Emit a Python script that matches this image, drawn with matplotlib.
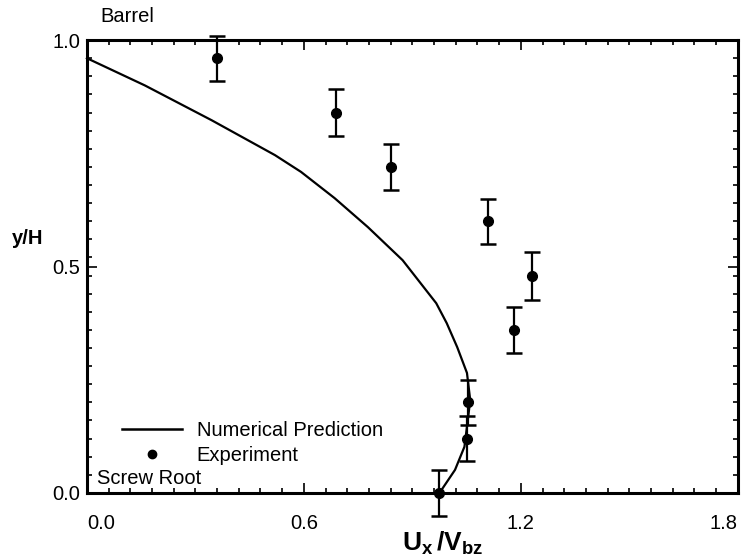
import numpy as np
import matplotlib
matplotlib.use("Agg")
import matplotlib.pyplot as plt
from matplotlib.ticker import MultipleLocator, FixedLocator
from matplotlib.lines import Line2D

plt.rcParams["font.family"] = ["Liberation Sans", "DejaVu Sans"]
plt.rcParams["mathtext.fontset"] = "custom"
plt.rcParams["mathtext.rm"] = "Liberation Sans"
plt.rcParams["mathtext.bf"] = "Liberation Sans:bold"

# numerical prediction
pred_x = [0.0, 0.16, 0.345, 0.52, 0.592, 0.685, 0.777, 0.873, 0.966, 0.995,
          1.024, 1.051, 1.06, 1.051, 1.044, 1.018, 0.975]
pred_y = [0.96, 0.90, 0.823, 0.746, 0.709, 0.651, 0.587, 0.514, 0.419, 0.375,
          0.322, 0.265, 0.205, 0.146, 0.102, 0.051, 0.0]

# experiment with error bars
exp_x = [0.36, 0.69, 0.84, 1.11, 1.23, 1.18, 1.055, 1.05, 0.975]
exp_y = [0.96, 0.84, 0.72, 0.60, 0.48, 0.36, 0.20, 0.12, 0.0]
exp_err = [0.05, 0.052, 0.05, 0.05, 0.053, 0.05, 0.05, 0.05, 0.05]

FS = 14.5

fig = plt.figure(figsize=(7.43, 5.57), dpi=100)
ax = fig.add_axes([0.117, 0.115, 0.876, 0.813])

ax.plot(pred_x, pred_y, color="black", lw=1.6, clip_on=False, zorder=3)
ax.errorbar(exp_x, exp_y, yerr=exp_err, fmt="o", color="black", ms=7,
            elinewidth=1.6, capsize=5.5, capthick=1.8, clip_on=False, zorder=4)

ax.set_xlim(0, 1.8)
ax.set_ylim(0, 1.0)
ax.xaxis.set_major_locator(FixedLocator([0, 0.6, 1.2, 1.8]))
ax.xaxis.set_minor_locator(MultipleLocator(0.06))
ax.yaxis.set_major_locator(FixedLocator([0, 0.5, 1.0]))
ax.yaxis.set_minor_locator(MultipleLocator(0.04))
xl = ax.set_xticklabels(["0.0", "0.6", "1.2", "1.8"])
xl[0].set_ha("left")
xl[-1].set_ha("right")
ax.set_yticklabels(["0.0", "0.5", "1.0"])
ax.tick_params(which="both", direction="in", top=True, right=True, width=1.2,
               labelsize=FS)
ax.tick_params(which="major", length=7)
ax.tick_params(which="minor", length=3.5)
ax.tick_params(axis="x", which="major", pad=15)
ax.tick_params(axis="y", which="major", pad=5)
for s in ax.spines.values():
    s.set_linewidth(2.2)

fig.text(100 / 743, 1 - 17 / 557, "Barrel", fontsize=FS, ha="left", va="center")
fig.text(12 / 743, 1 - 238 / 557, "y/H", fontsize=FS, fontweight="bold",
         ha="left", va="center")
fig.text(443 / 743, 1 - 543 / 557, r"$\mathbf{U_x\,/V_{bz}}$", fontsize=19,
         ha="center", va="center")
ax.text(0.015, 0.033, "Screw Root", transform=ax.transAxes, fontsize=FS,
        ha="left", va="center")

handles = [Line2D([], [], color="black", lw=1.8),
           Line2D([], [], color="black", marker="o", ls="none", ms=6)]
ax.legend(handles, ["Numerical Prediction", "Experiment"], loc="lower left",
          bbox_to_anchor=(0.054, 0.062), frameon=False, fontsize=FS,
          handlelength=3.0, handletextpad=0.7, labelspacing=0.3,
          borderpad=0, borderaxespad=0)

fig.savefig("out.png", dpi=100)
